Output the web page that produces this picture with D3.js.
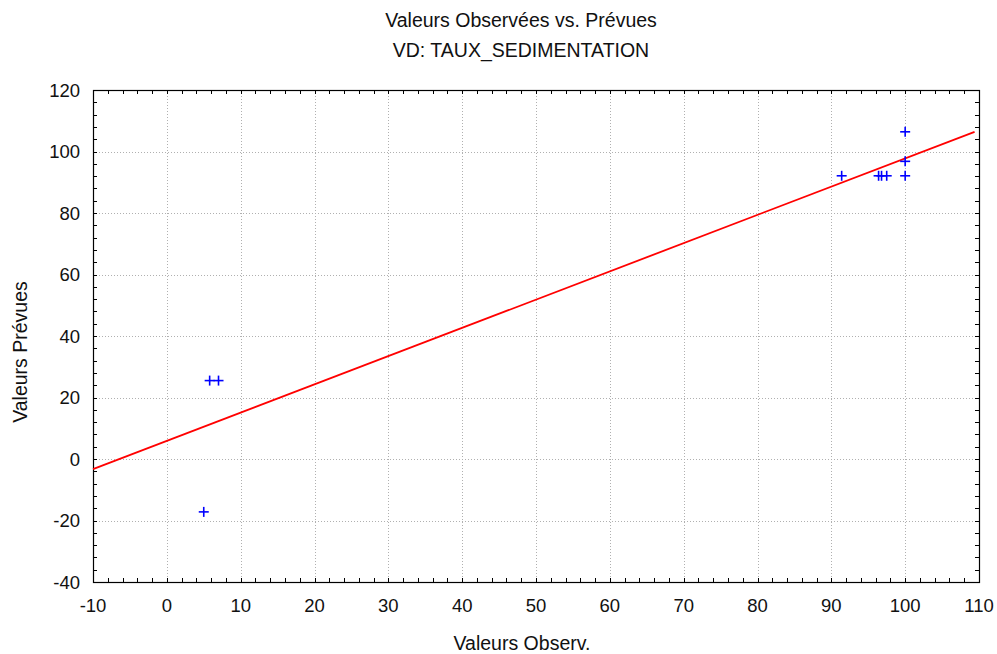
<!DOCTYPE html>
<html>
<head>
<meta charset="utf-8">
<script src="https://cdn.jsdelivr.net/npm/d3@7"></script>
<style>
  html, body { margin: 0; padding: 0; background: #fff; }
  svg { display: block; font-family: "Liberation Sans", Arial, sans-serif; }
</style>
</head>
<body>
<svg id="chart" width="997" height="654"></svg>
<script>
// Observed vs. predicted values
const observed  = [5, 5.8, 7.0, 91.4, 96.4, 96.8, 97.5, 100, 100, 100];
const predicted = [-17.2, 25.5, 25.5, 92.1, 92.1, 92.1, 92.1, 106.4, 96.8, 92.1];

// Fitted line endpoints
const fitX = [-10, 109.4];
const fitY = [-3.3, 106.4];

const xTicks = [-10, 0, 10, 20, 30, 40, 50, 60, 70, 80, 90, 100, 110];
const yTicks = [-40, -20, 0, 20, 40, 60, 80, 100, 120];

const titleLines = ["Valeurs Observées vs. Prévues", "VD: TAUX_SEDIMENTATION"];
const xLabel = "Valeurs Observ.";
const yLabel = "Valeurs Prévues";

const svg = d3.select("#chart");
const plotL = 93, plotR = 979, plotT = 90, plotB = 582;
const labelSize = 19.5, tickSize = 18.5;
const textColor = "#111";

const x = d3.scaleLinear().domain([-10, 110]).range([plotL, plotR]);
const y = d3.scaleLinear().domain([-40, 120]).range([plotB, plotT]);

// dotted grid at major ticks
const grid = svg.append("g").attr("stroke", "#b0b0b0").attr("stroke-dasharray", "1,2").attr("stroke-width", 1);
xTicks.slice(1, -1).forEach(t => {
  grid.append("line").attr("x1", Math.round(x(t)) + 0.5).attr("x2", Math.round(x(t)) + 0.5)
    .attr("y1", plotT).attr("y2", plotB);
});
yTicks.slice(1, -1).forEach(t => {
  grid.append("line").attr("y1", Math.round(y(t)) + 0.5).attr("y2", Math.round(y(t)) + 0.5)
    .attr("x1", plotL).attr("x2", plotR);
});

// inward-pointing ticks on all four sides (major + 4 minor)
const tickLen = 4;
const xMinor = d3.range(-10, 110.001, 2);
const yMinor = d3.range(-40, 120.001, 4);
const ticks = svg.append("g").attr("stroke", "#000").attr("stroke-width", 1);
xMinor.forEach(t => {
  const px = Math.round(x(t)) + 0.5;
  ticks.append("line").attr("x1", px).attr("x2", px).attr("y1", plotB).attr("y2", plotB - tickLen);
  ticks.append("line").attr("x1", px).attr("x2", px).attr("y1", plotT).attr("y2", plotT + tickLen);
});
yMinor.forEach(t => {
  const py = Math.round(y(t)) + 0.5;
  ticks.append("line").attr("y1", py).attr("y2", py).attr("x1", plotL).attr("x2", plotL + tickLen);
  ticks.append("line").attr("y1", py).attr("y2", py).attr("x1", plotR).attr("x2", plotR - tickLen);
});

// frame
svg.append("rect").attr("x", plotL + 0.5).attr("y", plotT + 0.5)
  .attr("width", plotR - plotL).attr("height", plotB - plotT)
  .attr("fill", "none").attr("stroke", "#000").attr("stroke-width", 1.2);

// tick labels
svg.append("g").selectAll("text").data(xTicks).join("text")
  .attr("x", d => x(d)).attr("y", 612)
  .attr("text-anchor", "middle").attr("font-size", tickSize).attr("fill", textColor)
  .text(d => d);
svg.append("g").selectAll("text").data(yTicks).join("text")
  .attr("x", 80).attr("y", d => y(d) + 6.5)
  .attr("text-anchor", "end").attr("font-size", tickSize).attr("fill", textColor)
  .text(d => d);

// fitted line
svg.append("path")
  .attr("d", d3.line().x(d => x(d[0])).y(d => y(d[1]))(fitX.map((v, i) => [v, fitY[i]])))
  .attr("fill", "none").attr("stroke", "#ff0000").attr("stroke-width", 1.8);

// observation markers (+)
const m = 5;
const pts = svg.append("g").attr("stroke", "#0000ff").attr("stroke-width", 1.6);
observed.forEach((v, i) => {
  const cx = x(v), cy = y(predicted[i]);
  pts.append("line").attr("x1", cx - m).attr("x2", cx + m).attr("y1", cy).attr("y2", cy);
  pts.append("line").attr("x1", cx).attr("x2", cx).attr("y1", cy - m).attr("y2", cy + m);
});

// titles
svg.append("g").selectAll("text").data(titleLines).join("text")
  .attr("x", 521).attr("y", (d, i) => 27 + i * 29.5)
  .attr("text-anchor", "middle").attr("font-size", labelSize).attr("fill", textColor)
  .text(d => d);

svg.append("text").attr("x", 522).attr("y", 650)
  .attr("text-anchor", "middle").attr("font-size", labelSize).attr("fill", textColor).text(xLabel);

svg.append("text").attr("transform", "translate(27,352) rotate(-90)")
  .attr("text-anchor", "middle").attr("font-size", labelSize).attr("fill", textColor).text(yLabel);
</script>
</body>
</html>
